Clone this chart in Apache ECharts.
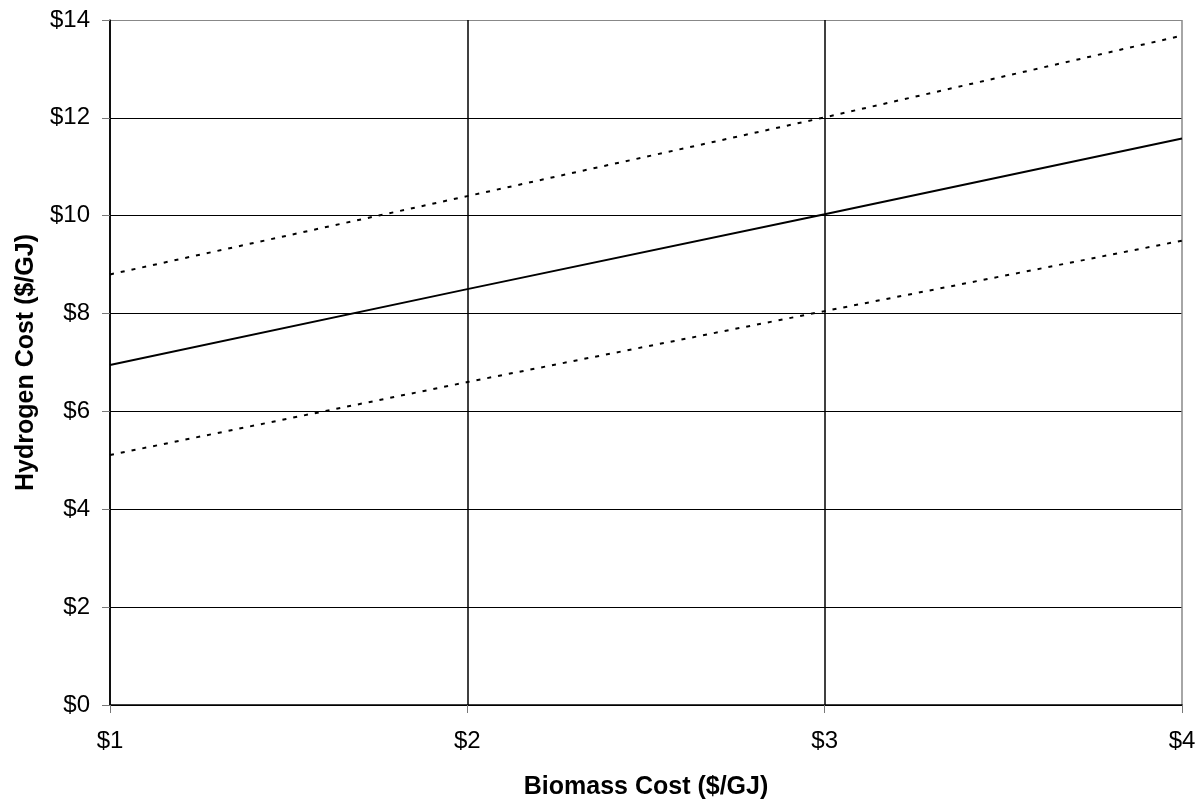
<!DOCTYPE html>
<html>
<head>
<meta charset="utf-8">
<script src="https://cdn.jsdelivr.net/npm/echarts@6/dist/echarts.min.js"></script>
<style>
html,body{margin:0;padding:0;background:#fff;}
#chart{width:1200px;height:802px;}
</style>
</head>
<body>
<div id="chart"></div>
<script>
const biomassCost = [1, 2, 3, 4];
const baseCase = [6.95, 8.5, 10.03, 11.58];
const highCase = [8.8, 10.4, 12.01, 13.68];
const lowCase = [5.11, 6.6, 8.05, 9.49];
const xTitle = 'Biomass Cost ($/GJ)';
const yTitle = 'Hydrogen Cost ($/GJ)';

const pair = (ys) => biomassCost.map((x, i) => [x, ys[i]]);
const font = '"Liberation Sans", Arial, sans-serif';

const chart = echarts.init(document.getElementById('chart'));
chart.setOption({
  animation: false,
  backgroundColor: '#fff',
  grid: { left: 110, right: 18, top: 20, bottom: 97, show: false, containLabel: false, outerBoundsMode: 'none' },
  xAxis: {
    type: 'value', min: 1, max: 4, interval: 1,
    name: xTitle, nameLocation: 'middle', nameGap: 70,
    nameTextStyle: { fontFamily: font, fontSize: 25, fontWeight: 'bold', color: '#000' },
    axisLine: { show: true, lineStyle: { color: '#000', width: 1.5 } },
    axisTick: { show: true, inside: false, length: 8, lineStyle: { color: '#777' } },
    axisLabel: { fontFamily: font, fontSize: 24, color: '#000', margin: 24, formatter: v => '$' + v },
    splitLine: { show: true, lineStyle: { color: ['#000', '#000', '#000', '#888'], width: 1.5 } }
  },
  yAxis: {
    type: 'value', min: 0, max: 14, interval: 2,
    name: yTitle, nameLocation: 'middle', nameGap: 70,
    nameTextStyle: { fontFamily: font, fontSize: 25, fontWeight: 'bold', color: '#000' },
    axisLine: { show: true, lineStyle: { color: '#000', width: 1.5 } },
    axisTick: { show: true, inside: false, length: 8, lineStyle: { color: '#777' } },
    axisLabel: { fontFamily: font, fontSize: 24, color: '#000', margin: 20, formatter: v => '$' + v },
    splitLine: { show: true, lineStyle: { color: ['#000','#000','#000','#000','#000','#000','#000','#888'], width: 1.2 } }
  },
  series: [
    { type: 'line', data: pair(highCase), symbol: 'none', lineStyle: { color: '#000', width: 2, type: [4, 7] } },
    { type: 'line', data: pair(baseCase), symbol: 'none', lineStyle: { color: '#000', width: 2 } },
    { type: 'line', data: pair(lowCase), symbol: 'none', lineStyle: { color: '#000', width: 2, type: [4, 7] } }
  ]
});
</script>
</body>
</html>
